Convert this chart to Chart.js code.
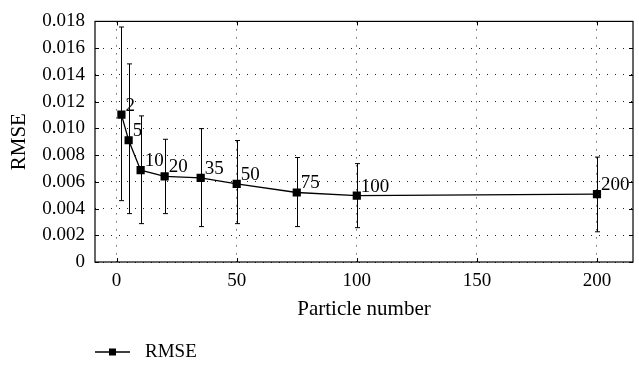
<!DOCTYPE html>
<html>
<head>
<meta charset="utf-8">
<script src="https://cdn.jsdelivr.net/npm/chart.js@4"></script>
<style>
  body { margin: 0; background: #fff; }
  #wrap { width: 639px; height: 366px; }
</style>
</head>
<body>
<div id="wrap"><canvas id="myChart" width="639" height="366"></canvas></div>
<script>
'use strict'
// values
let particles = [2, 5, 10, 20, 35, 50, 75, 100, 200];
let rmse = [0.01103, 0.00911, 0.00687, 0.00641, 0.00629, 0.00585, 0.0052, 0.00496, 0.00508];
let errHigh = [0.01758, 0.01482, 0.01093, 0.00918, 0.00998, 0.00909, 0.00782, 0.00736, 0.00785];
let errLow = [0.00459, 0.00362, 0.00287, 0.00362, 0.00265, 0.00287, 0.00265, 0.00257, 0.00226];
let xTicks = [0, 50, 100, 150, 200];
let seriesName = 'RMSE';

let fontFam = '"Liberation Serif", "Times New Roman", serif';
let fontSize = 19;
let titleSize = 21;

let points = [];
for (let i = 0; i < particles.length; i++) {
    points.push({ x: particles[i], y: rmse[i] });
}

// error bars + point labels + frame
let extras = {
    id: 'extras',
    beforeDatasetsDraw(chart) {
        let ctx = chart.ctx;
        let xs = chart.scales.x;
        let ys = chart.scales.y;
        ctx.save();
        ctx.strokeStyle = '#000';
        ctx.lineWidth = 1;
        for (let i = 0; i < particles.length; i++) {
            let px = Math.round(xs.getPixelForValue(particles[i])) + 0.5;
            let top = ys.getPixelForValue(errHigh[i]);
            let bot = ys.getPixelForValue(errLow[i]);
            ctx.beginPath();
            ctx.moveTo(px, top);
            ctx.lineTo(px, bot);
            ctx.moveTo(px - 2.5, top);
            ctx.lineTo(px + 2.5, top);
            ctx.moveTo(px - 2.5, bot);
            ctx.lineTo(px + 2.5, bot);
            ctx.stroke();
        }
        ctx.restore();
    },
    afterDatasetsDraw(chart) {
        let ctx = chart.ctx;
        let xs = chart.scales.x;
        let ys = chart.scales.y;
        let a = chart.chartArea;
        ctx.save();
        ctx.fillStyle = '#000';
        ctx.font = fontSize + 'px ' + fontFam;
        ctx.textAlign = 'left';
        ctx.textBaseline = 'alphabetic';
        for (let i = 0; i < particles.length; i++) {
            let px = xs.getPixelForValue(particles[i]);
            let py = ys.getPixelForValue(rmse[i]);
            ctx.fillText(String(particles[i]), px + 4, py - 4);
        }
        // frame with small inward ticks
        ctx.strokeStyle = '#000';
        ctx.lineWidth = 1.2;
        ctx.strokeRect(a.left, a.top, a.right - a.left, a.bottom - a.top);
        ctx.lineWidth = 1;
        ctx.beginPath();
        xs.ticks.forEach(function (t) {
            let px = Math.round(xs.getPixelForValue(t.value)) + 0.5;
            ctx.moveTo(px, a.bottom);
            ctx.lineTo(px, a.bottom - 4);
            ctx.moveTo(px, a.top);
            ctx.lineTo(px, a.top + 4);
        });
        ys.ticks.forEach(function (t) {
            let py = Math.round(ys.getPixelForValue(t.value)) + 0.5;
            ctx.moveTo(a.left, py);
            ctx.lineTo(a.left + 4, py);
            ctx.moveTo(a.right, py);
            ctx.lineTo(a.right - 4, py);
        });
        ctx.stroke();

        // legend
        let ly = 352;
        ctx.lineWidth = 1.3;
        ctx.beginPath();
        ctx.moveTo(95, ly);
        ctx.lineTo(130, ly);
        ctx.stroke();
        ctx.fillRect(109, ly - 3.5, 7, 7);
        ctx.textBaseline = 'middle';
        ctx.fillText(seriesName, 145, ly);
        ctx.restore();
    }
};

let ctx = document.getElementById('myChart').getContext('2d');
let myChart = new Chart(ctx, {
    type: 'line',
    data: {
        datasets: [{
            label: seriesName,
            data: points,
            borderColor: '#000',
            backgroundColor: '#000',
            borderWidth: 1.3,
            pointStyle: 'rect',
            pointRadius: 5.8,
            pointBorderWidth: 0,
            tension: 0
        }]
    },
    plugins: [extras],
    options: {
        responsive: false,
        animation: false,
        layout: { padding: { top: 15, right: 6, left: 0, bottom: 44 } },
        plugins: {
            legend: { display: false },
            tooltip: { enabled: false }
        },
        scales: {
            x: {
                type: 'linear',
                min: -9,
                max: 215,
                afterBuildTicks(scale) {
                    scale.ticks = xTicks.map(function (v) { return { value: v }; });
                },
                afterFit(scale) { scale.height = 60; },
                grid: { color: '#222', lineWidth: 1, drawTicks: false },
                border: { display: false, dash: [1, 7] },
                ticks: {
                    color: '#000',
                    padding: 8,
                    maxRotation: 0,
                    font: { family: fontFam, size: fontSize }
                },
                title: {
                    display: true,
                    text: 'Particle number',
                    color: '#000',
                    padding: { top: 4, bottom: 0 },
                    font: { family: fontFam, size: titleSize }
                }
            },
            y: {
                min: 0,
                max: 0.018,
                afterFit(scale) { scale.width = 95; },
                grid: { color: '#222', lineWidth: 1, drawTicks: false },
                border: { display: false, dash: [1, 7] },
                ticks: {
                    stepSize: 0.002,
                    color: '#000',
                    padding: 10,
                    font: { family: fontFam, size: fontSize },
                    callback: function (v) { return v === 0 ? '0' : v.toFixed(3); }
                },
                title: {
                    display: true,
                    text: 'RMSE',
                    color: '#000',
                    padding: { top: 7, bottom: 4 },
                    font: { family: fontFam, size: titleSize }
                }
            }
        }
    }
});
</script>
</body>
</html>
